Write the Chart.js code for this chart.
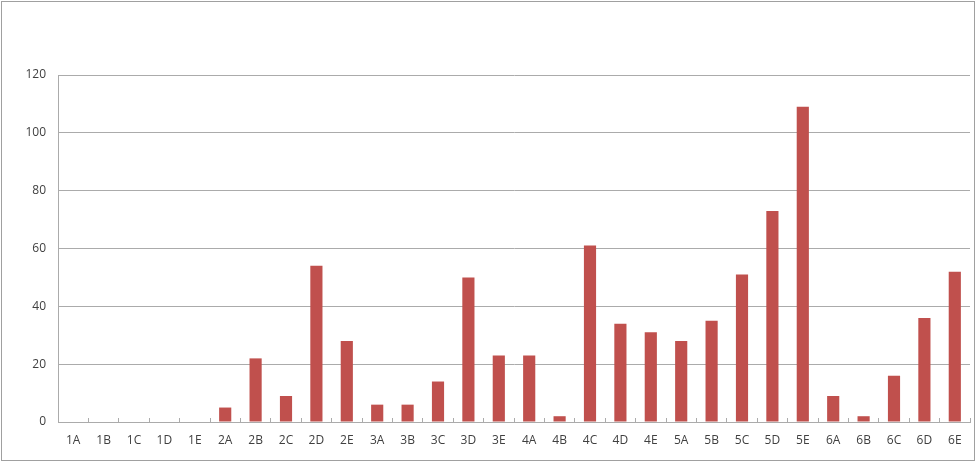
<!DOCTYPE html>
<html>
<head>
<meta charset="utf-8">
<script src="https://cdn.jsdelivr.net/npm/chart.js@4/dist/chart.umd.min.js"></script>
<style>
    html, body { margin: 0; padding: 0; background: #ffffff; }
    canvas { display: block; }
</style>
</head>
<body>
<canvas id="barChart" width="977" height="463"></canvas>
<script>
// Categories along the x axis
const categories = [
    '1A', '1B', '1C', '1D', '1E',
    '2A', '2B', '2C', '2D', '2E',
    '3A', '3B', '3C', '3D', '3E',
    '4A', '4B', '4C', '4D', '4E',
    '5A', '5B', '5C', '5D', '5E',
    '6A', '6B', '6C', '6D', '6E'
];

// Bar values
const values = [
    0, 0, 0, 0, 0,
    5, 22, 9, 54, 28,
    6, 6, 14, 50, 23,
    23, 2, 61, 34, 31,
    28, 35, 51, 73, 109,
    9, 2, 16, 36, 52
];

// Y axis ticks
const yMin = 0;
const yMax = 120;
const yStep = 20;

const gridGray = '#ababab';
const textGray = '#404040';

// Grey frame around the whole chart, like the Excel chart border
const frameBorder = {
    id: 'frameBorder',
    afterDraw(chart) {
        const ctx = chart.ctx;
        ctx.save();
        ctx.strokeStyle = '#a0a0a0';
        ctx.lineWidth = 1;
        ctx.strokeRect(1.5, 1.5, chart.width - 4, chart.height - 4);
        ctx.restore();
    }
};

document.addEventListener('DOMContentLoaded', function() {
    const ctx = document.getElementById('barChart').getContext('2d');

    new Chart(ctx, {
        type: 'bar',
        data: {
            labels: categories,
            datasets: [{
                data: values,
                backgroundColor: '#c0504d',
                borderWidth: 0,
                barPercentage: 0.4,
                categoryPercentage: 1.0
            }]
        },
        options: {
            responsive: false,
            animation: false,
            layout: {
                padding: { top: 75, right: 7, bottom: 0, left: 0 }
            },
            scales: {
                x: {
                    offset: true,
                    afterFit: function(scale) { scale.height = 41; },
                    grid: {
                        offset: true,
                        drawOnChartArea: false,
                        drawTicks: true,
                        tickLength: -4,
                        color: gridGray
                    },
                    border: { display: true, color: gridGray, width: 1 },
                    ticks: {
                        color: textGray,
                        padding: 15,
                        autoSkip: false,
                        maxRotation: 0,
                        font: { family: 'Open Sans', size: 12 }
                    }
                },
                y: {
                    min: yMin,
                    max: yMax,
                    afterFit: function(scale) { scale.width = 58; },
                    grid: {
                        color: gridGray,
                        drawTicks: false
                    },
                    border: { display: true, color: gridGray, width: 1 },
                    ticks: {
                        stepSize: yStep,
                        color: textGray,
                        padding: 12,
                        font: { family: 'Open Sans', size: 12 }
                    }
                }
            },
            plugins: {
                legend: { display: false },
                tooltip: { enabled: false }
            }
        },
        plugins: [frameBorder]
    });
});
</script>
</body>
</html>
